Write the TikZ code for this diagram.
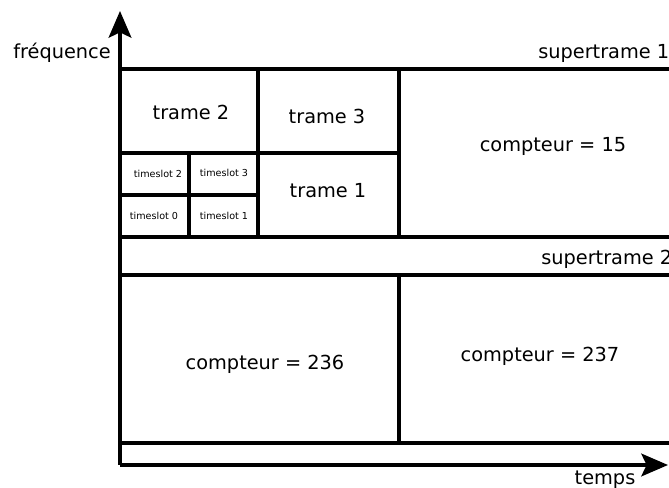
\documentclass[tikz,border=0pt]{standalone}
\usepackage{fontspec}
\setmainfont{DejaVu Sans}
\usetikzlibrary{arrows.meta}
\begin{document}
\begin{tikzpicture}[x=0.75pt,y=-0.75pt,
  grid/.style={line width=2.6pt, line cap=rect},
  axis/.style={line width=2.8pt, -{Stealth[length=20pt,width=17pt,inset=4pt]}},
  lbl/.style={inner sep=0pt, font=\fontsize{14.5}{17}\selectfont},
  small/.style={inner sep=0pt, font=\fontsize{7.2}{9}\selectfont}]
\useasboundingbox (0,0) rectangle (669,488);
% axes
\coordinate (O) at (120,465);
\coordinate (ytip) at (120,11);
\coordinate (xtip) at (668,465);
\draw[axis] (O) -- (ytip);
\draw[axis] (O) -- (xtip);
% grid
\draw[grid] (120,69) -- (672,69);
\draw[grid] (120,237) -- (672,237);
\draw[grid] (120,275) -- (672,275);
\draw[grid] (120,443) -- (672,443);
\draw[grid] (120,153) -- (399,153);
\draw[grid] (120,195) -- (258,195);
\draw[grid] (258,69) -- (258,237);
\draw[grid] (399,69) -- (399,237);
\draw[grid] (189,153) -- (189,237);
\draw[grid] (399,275) -- (399,443);
% labels
\node[lbl] (freq) at (62,53) {fréquence};
\node[lbl] (temps) at (605,480) {temps};
\node[lbl, anchor=west] (st1) at (538,53) {supertrame 1};
\node[lbl, anchor=west] (st2) at (541,259) {supertrame 2};
\node[lbl] (t2) at (191,112) {trame 2};
\node[lbl] (t3) at (327,116) {trame 3};
\node[lbl] (t1) at (328,191) {trame 1};
\node[lbl] (c15) at (553,146) {compteur = 15};
\node[lbl] (c236) at (265,364) {compteur = 236};
\node[lbl] (c237) at (540,356) {compteur = 237};
\node[small] (ts2) at (158,174) {timeslot 2};
\node[small] (ts3) at (224,173) {timeslot 3};
\node[small] (ts0) at (154,216) {timeslot 0};
\node[small] (ts1) at (224,216) {timeslot 1};
\end{tikzpicture}
\end{document}
